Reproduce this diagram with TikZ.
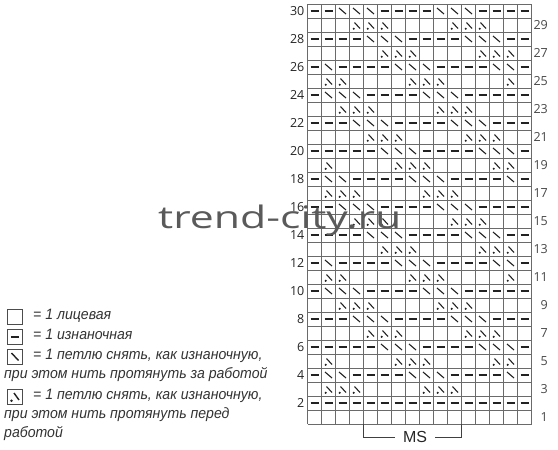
\documentclass[tikz,border=0pt]{standalone}
\usepackage{fontspec}
\setmainfont{Liberation Sans}
\newfontfamily\wmfont{Open Sans}
\newfontfamily\numfont{Open Sans}
\newfontfamily\legfont[FakeStretch=0.94]{Liberation Sans}
\usetikzlibrary{calc}
\definecolor{gridc}{HTML}{6A6A6A}
\definecolor{symc}{HTML}{222222}
\definecolor{legc}{HTML}{333333}
\definecolor{wmc}{HTML}{5A5A5A}
\tikzset{
  gridline/.style={draw=gridc, line width=0.9pt},
  symline/.style={draw=symc, line width=1.1pt},
  lnum/.style={font=\numfont\fontsize{12.5}{14}\selectfont, text=black!85, inner sep=0pt, anchor=east},
  rnum/.style={font=\numfont\fontsize{12.5}{14}\selectfont, text=black!72, inner sep=0pt, anchor=east},
  legtext/.style={font=\legfont\itshape\fontsize{15}{17}\selectfont, text=legc, inner sep=0pt, anchor=mid west},
  legbox/.style={draw=black!70, line width=1.1pt, minimum size=15.5pt, inner sep=0pt},
  legsym/.style={draw=symc, line width=1.4pt},
  bracket/.style={draw=black!75, line width=0.9pt},
  wmark/.style={font=\wmfont\fontsize{31}{31}\selectfont, text=wmc, anchor=base west, inner sep=0pt}
}
\newcommand\evenrow[2]{%
  \pgfmathsetmacro\ry{4+(30-#1)*14}%
  \foreach \cl in {1,...,16}{%
    \gdef\isslash{0}%
    \foreach \s in {#2}{\ifnum\s=\cl\relax\gdef\isslash{1}\fi}%
    \pgfmathsetmacro\rx{307.5+(\cl-1)*14}%
    \ifnum\isslash=1
      \draw[symline] ({\rx+3.5},{\ry+4}) -- ({\rx+10.5},{\ry+10});
    \else
      \draw[symline] ({\rx+3},{\ry+7}) -- ({\rx+11},{\ry+7});
    \fi
  }}
\newcommand\oddrow[2]{%
  \pgfmathsetmacro\ry{4+(30-#1)*14}%
  \foreach \s in {#2}{%
    \pgfmathsetmacro\rx{307.5+(\s-1)*14}%
    \draw[symline] ({\rx+5},{\ry+4.5}) -- ({\rx+10.5},{\ry+10.5});
    \fill[symc] ({\rx+4.2},{\ry+10.8}) circle (1.15);
  }}
\begin{document}
\begin{tikzpicture}[x=1pt,y=-1pt]
\useasboundingbox (0,0) rectangle (558,450);
\fill[white] (0,0) rectangle (558,450);
% grid
\foreach \i in {0,...,16} \draw[gridline] ({307.5+14*\i},4) -- ({307.5+14*\i},424);
\foreach \j in {0,...,30} \draw[gridline] (307.5,{4+14*\j}) -- (531.5,{4+14*\j});
% even rows
\evenrow{30}{3,4,5,10,11,12}
\evenrow{28}{5,6,7,12,13,14}
\evenrow{26}{2,7,8,9,14,15}
\evenrow{24}{2,3,4,9,10,11}
\evenrow{22}{4,5,6,11,12,13}
\evenrow{20}{6,7,8,13,14,15}
\evenrow{18}{2,3,8,9,10,15}
\evenrow{16}{3,4,5,10,11,12}
\evenrow{14}{5,6,7,12,13,14}
\evenrow{12}{2,7,8,9,14,15}
\evenrow{10}{2,3,4,9,10,11}
\evenrow{8}{4,5,6,11,12,13}
\evenrow{6}{6,7,8,13,14,15}
\evenrow{4}{2,3,8,9,10,15}
\evenrow{2}{0}
% odd rows
\oddrow{29}{4,5,6,11,12,13}
\oddrow{27}{6,7,8,13,14,15}
\oddrow{25}{2,3,8,9,10,15}
\oddrow{23}{3,4,5,10,11,12}
\oddrow{21}{5,6,7,12,13,14}
\oddrow{19}{2,7,8,9,14,15}
\oddrow{17}{2,3,4,9,10,11}
\oddrow{15}{4,5,6,11,12,13}
\oddrow{13}{6,7,8,13,14,15}
\oddrow{11}{2,3,8,9,10,15}
\oddrow{9}{3,4,5,10,11,12}
\oddrow{7}{5,6,7,12,13,14}
\oddrow{5}{2,7,8,9,14,15}
\oddrow{3}{2,3,4,9,10,11}
% row numbers
\foreach \r in {2,4,...,30} \node[lnum] (L\r) at (304.5,{431-14*\r}) {\r};
\foreach \r in {1,3,...,29} \node[rnum] (R\r) at (548,{431-14*\r}) {\r};
% MS bracket
\node[font=\fontsize{16}{16}\selectfont, text=black!85, minimum width=40pt, inner sep=0pt] (ms) at (415,437) {MS};
\coordinate (msa) at (363.5,424);
\coordinate (msb) at (461.5,424);
\draw[bracket] (msa) |- (ms.west);
\draw[bracket] (msb) |- (ms.east);
% legend
\node[legbox] (b1) at (15,317) {};
\node[legbox] (b2) at (15,337) {};
\draw[legsym] ($(b2.center)+(-4.2,0)$) -- ($(b2.center)+(4.2,0)$);
\node[legbox] (b3) at (15,357) {};
\draw[legsym] ($(b3.center)+(-3.5,-4)$) -- ($(b3.center)+(3.5,3.5)$);
\node[legbox] (b4) at (15,397) {};
\draw[legsym] ($(b4.center)+(-1,-4)$) -- ($(b4.center)+(4,3)$);
\fill[symc] ($(b4.center)+(-3.5,3.8)$) circle (1.4);
\node[legtext] (t1) at (33,317) {= 1 лицевая};
\node[legtext] (t2) at (33,337) {= 1 изнаночная};
\node[legtext] (t3) at (33,357) {= 1 петлю снять, как изнаночную,};
\node[legtext] (t4) at (4,376) {при этом нить протянуть за работой};
\node[legtext] (t5) at (33,397) {= 1 петлю снять, как изнаночную,};
\node[legtext] (t6) at (4,416) {при этом нить протянуть перед};
\node[legtext] (t7) at (4,435) {работой};
% watermark
\node[wmark] (wm) at (158,228) {\scalebox{1.38}[1]{trend-city.ru}};
\end{tikzpicture}
\end{document}
